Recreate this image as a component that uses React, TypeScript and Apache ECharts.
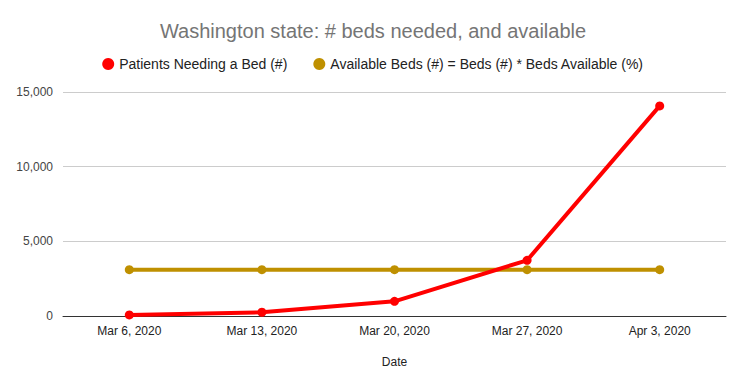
import React, { useEffect, useRef } from "react";
import * as echarts from "echarts";

const categories = ["Mar 6, 2020", "Mar 13, 2020", "Mar 20, 2020", "Mar 27, 2020", "Apr 3, 2020"];
const patientsNeeding = [70, 250, 980, 3730, 14070];
const availableBeds = [3100, 3100, 3100, 3100, 3100];
const seriesNames = ["Patients Needing a Bed (#)", "Available Beds (#) = Beds (#) * Beds Available (%)"];

export default function App() {
  const ref = useRef<HTMLDivElement>(null);
  useEffect(() => {
    if (!ref.current) return;
    const chart = echarts.init(ref.current, undefined, { renderer: "svg" });
    const font = "Liberation Sans, Arial, sans-serif";
    chart.setOption({
      animation: false,
      backgroundColor: "#ffffff",
      textStyle: { fontFamily: font },
      title: {
        text: "Washington state: # beds needed, and available",
        left: "center",
        top: 16,
        textStyle: { fontSize: 20, fontWeight: "normal", color: "#757575", fontFamily: font },
      },
      legend: {
        top: 52,
        left: "center",
        icon: "circle",
        itemWidth: 12,
        itemHeight: 12,
        itemGap: 26,
        textStyle: { fontSize: 14, color: "#222", fontFamily: font },
        data: seriesNames,
      },
      grid: { left: 63, right: 20, top: 92, bottom: 72 },
      xAxis: {
        type: "category",
        data: categories,
        boundaryGap: true,
        name: "Date",
        nameLocation: "middle",
        nameGap: 40,
        nameTextStyle: { fontSize: 12, color: "#222", fontFamily: font },
        axisLine: { lineStyle: { color: "#333", width: 1 } },
        axisTick: { show: false },
        axisLabel: { fontSize: 12, color: "#222", margin: 9, fontFamily: font },
      },
      yAxis: {
        type: "value",
        min: 0,
        max: 15000,
        interval: 5000,
        axisLine: { show: false },
        axisTick: { show: false },
        axisLabel: {
          fontSize: 12,
          color: "#444",
          margin: 10,
          fontFamily: font,
          formatter: (v: number) => v.toLocaleString("en-US"),
        },
        splitLine: { lineStyle: { color: "#cccccc" } },
      },
      series: [
        {
          name: seriesNames[0],
          type: "line",
          data: patientsNeeding,
          color: "#ff0000",
          lineStyle: { width: 4, color: "#ff0000" },
          symbol: "circle",
          symbolSize: 9,
          itemStyle: { color: "#ff0000" },
          z: 3,
        },
        {
          name: seriesNames[1],
          type: "line",
          data: availableBeds,
          color: "#bf9000",
          lineStyle: { width: 4, color: "#bf9000" },
          symbol: "circle",
          symbolSize: 9,
          itemStyle: { color: "#bf9000" },
          z: 2,
        },
      ],
    });
    return () => chart.dispose();
  }, []);
  return <div ref={ref} style={{ width: 746, height: 388, position: "absolute", left: 0, top: 0 }} />;
}
